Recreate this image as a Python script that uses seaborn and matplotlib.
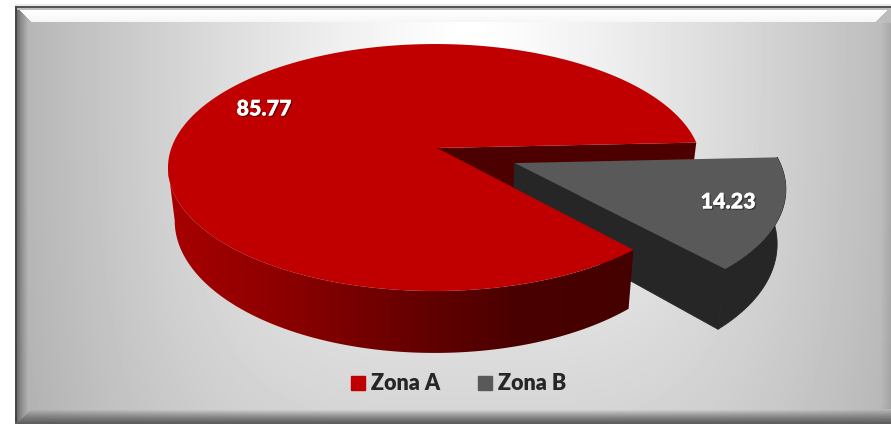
import numpy as np
import seaborn as sns
import matplotlib
matplotlib.use("Agg")
import matplotlib.pyplot as plt
import matplotlib.patheffects as pe
from matplotlib.colors import ListedColormap
from matplotlib.patches import Patch, Polygon

# Data
zones = ["Zona A", "Zona B"]
shares = [85.77, 14.23]
colors = ["#C00000", "#595959"]
wall_colors = ["#262626"]

sns.set_style("white")
plt.rcParams["font.family"] = ["Lato", "DejaVu Sans"]

W, H = 891, 426

# Pie geometry in pixels
cx, cy = 437, 148
rx, ry = 263.5, 120.4
persp = 0.158
persp_x = 0.008
b_mid = -23.0
explode = 0.315


def project(u, v):
    w = 1 + persp * v + persp_x * u
    return cx + rx * u / w, cy - ry * v / w


def lower(x, y):
    return cx + 0.975 * (x - cx), cy + 51.5 + 1.073 * (y - cy)


def rim(a0, a1, n=200, off=(0, 0)):
    t = np.radians(np.linspace(a0, a1, n))
    return project(np.cos(t) + off[0], np.sin(t) + off[1])


def background():
    yy, xx = np.mgrid[0:H, 0:W].astype(float)
    a = np.abs(xx - 470) / 440
    b = np.clip(yy - 30, 0, None) / 370 * 0.56
    d = ((a ** 1.25) ** 3 + b ** 3) ** (1 / 3)
    img = np.clip(255 - 72 * d, 0, 255)
    # bevel of the frame
    top = np.clip((yy - 9) / 13, 0, 1)
    left = np.clip((xx - 16) / 12, 0, 1)
    bot = np.clip((421 - yy) / 12, 0, 1)
    img = np.where((yy < 22) & (yy - 6 < xx - 15) & (yy - 6 < 891 - xx + 0), 255 - 10 * top, img)
    edge = (xx < 28) & (xx - 15 <= yy - 6) & (xx - 15 <= 424 - yy)
    img = np.where(edge, 95 + (img - 95) * left ** 0.7, img)
    low = (yy > 409) & (424 - yy < xx - 15)
    img = np.where(low, 105 + (img - 105) * bot ** 1.2, img)
    side = xx > 880
    img = np.where(side & (yy > 22) & (yy < 409), img - (xx - 880) * 1.8, img)
    # thin dark outline and white outside
    img[:, :15] = 255
    img[:4, :] = 255
    img[4:6, 15:] = 235
    img[6:8, 15:] = 85
    img[8:10, 15:] = 190
    img[:, 15:17][6:424] = 70
    img[422:424, 15:] = 95
    img[424:, :] = 255
    return img


fig = plt.figure(figsize=(W / 100, H / 100), dpi=100)
ax = fig.add_axes([0, 0, 1, 1])
ax.imshow(background(), cmap="gray", vmin=0, vmax=255, extent=(0, W, H, 0),
          aspect="auto", zorder=0, interpolation="bilinear")

# Angles from the values
b_sweep = 360 * shares[1] / sum(shares)
b_start = b_mid - b_sweep / 2
b_end = b_mid + b_sweep / 2
a_start = b_end
a_end = b_start + 360
off = (explode * np.cos(np.radians(b_mid)), explode * np.sin(np.radians(b_mid)))

# back cut wall of Zona A
x_a, y_a = project(0, 0)
rx1, ry1 = rim(a_start, a_start, 2)
lx_a, ly_a = lower(x_a, y_a)
lx1, ly1 = lower(rx1[0], ry1[0])
ax.fill([x_a, rx1[0], lx1, lx_a], [y_a, ry1[0], ly1, ly_a], color="#4D0000", lw=0, zorder=1)

# Zona B walls and top
x_b, y_b = project(*off)
bx, by = rim(b_start, b_end, off=off)
lbx, lby = lower(bx, by)
ax.fill(np.r_[bx, lbx[::-1]], np.r_[by, lby[::-1]], color=wall_colors[0], lw=0.6, zorder=2)
lxb, lyb = lower(x_b, y_b)
ax.fill([x_b, bx[0], lbx[0], lxb], [y_b, by[0], lby[0], lyb], color=wall_colors[0], lw=0.6, zorder=2)
ax.fill(np.r_[x_b, bx], np.r_[y_b, by], color=colors[1], lw=0, zorder=3)

# Zona A outer wall, a left to right shade clipped to the wall shape
shade = sns.blend_palette(["#A80000", "#8C0000", "#6A0000", "#4A0000", "#450000"], 256)
wx, wy = rim(189, a_end, 300)
lwx, lwy = lower(wx, wy)
wall = Polygon(np.c_[np.r_[wx, lwx[::-1]], np.r_[wy, lwy[::-1]]], closed=True, fc="none", ec="none",
               transform=ax.transData)
ax.add_patch(wall)
grad = ax.imshow(np.linspace(0, 1, 256)[None, :], cmap=ListedColormap(shade), vmin=0, vmax=1,
                 extent=(165, 635, 400, 100), aspect="auto", zorder=4, interpolation="bilinear")
grad.set_clip_path(wall)

# Zona A top
tx, ty = rim(a_start, a_end, 500)
ax.fill(np.r_[x_a, tx], np.r_[y_a, ty], color=colors[0], lw=0, zorder=5)

# Value labels
shadow = [pe.withSimplePatchShadow(offset=(1, -1), shadow_rgbFace="#000000", alpha=0.4), pe.Normal()]
ax.text(264, 109, f"{shares[0]:.2f}", color="white", fontsize=15.5, fontweight="heavy",
        ha="center", va="center", zorder=6, path_effects=shadow)
ax.text(728, 202, f"{shares[1]:.2f}", color="white", fontsize=15.5, fontweight="heavy",
        ha="center", va="center", zorder=6, path_effects=shadow)

ax.set_xlim(0, W)
ax.set_ylim(H, 0)
ax.axis("off")

handles = [Patch(color=c, label=z) for c, z in zip(colors, zones)]
ax.legend(handles=handles, loc="center", bbox_to_anchor=(458.5 / W, 1 - 384 / H), ncol=2, frameon=False,
          prop={"family": "Lato", "weight": "heavy", "size": 15.5}, handlelength=0.65, handleheight=0.65,
          handletextpad=0.3, columnspacing=1.75)

fig.savefig("out.png", dpi=100)
